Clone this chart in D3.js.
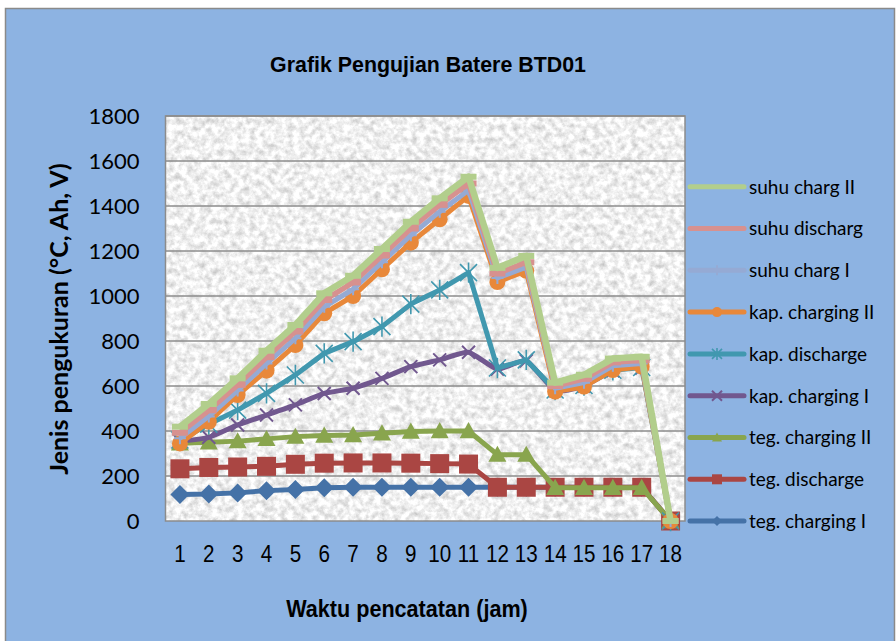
<!DOCTYPE html>
<html>
<head>
<meta charset="utf-8">
<script src="https://cdn.jsdelivr.net/npm/d3@7"></script>
<style>
  body { margin: 0; background: #fff; }
  svg { display: block; }
</style>
</head>
<body>
<svg id="chart" width="896" height="641"></svg>
<script>
// data (plotted values, 18 hourly readings)
var categories = ["1","2","3","4","5","6","7","8","9","10","11","12","13","14","15","16","17","18"];
var yTicks = [0,200,400,600,800,1000,1200,1400,1600,1800];

var tegChargingI   = [118,120,125,135,140,148,150,150,150,150,150,150,150,150,150,150,150,0];
var tegDischarge   = [232,238,240,243,252,257,258,258,257,255,253,150,150,150,150,150,150,0];
var tegChargingII  = [345,350,355,365,375,380,382,390,398,400,400,295,295,148,148,148,148,0];
var kapChargingI   = [355,372,427,471,516,567,590,634,686,716,750,675,712,580,600,668,680,0];
var kapDischarge   = [360,430,493,567,649,745,797,864,964,1027,1104,680,716,582,602,670,682,0];
var kapChargingII  = [345,441,560,668,782,923,1000,1119,1237,1341,1445,1062,1112,575,597,671,686,0];
var suhuChargI     = [368,465,580,700,812,952,1030,1150,1270,1375,1470,1080,1128,590,615,690,700,0];
var suhuDischarg   = [392,492,605,728,842,982,1060,1180,1300,1405,1500,1100,1150,600,632,705,714,0];
var suhuChargII    = [419,520,634,757,871,1012,1090,1209,1330,1434,1530,1125,1178,615,650,722,730,0];

// drawing order (first drawn at the bottom)
var series = [
  {name: "teg. charging I",   values: tegChargingI,  color: "#4572A7", marker: "diamond", width: 5},
  {name: "teg. discharge",    values: tegDischarge,  color: "#AA4643", marker: "square", width: 5},
  {name: "teg. charging II",  values: tegChargingII, color: "#89A54E", marker: "triangle", width: 5},
  {name: "kap. charging I",   values: kapChargingI,  color: "#71588F", marker: "x", width: 5, smooth: true},
  {name: "kap. discharge",    values: kapDischarge,  color: "#4198AF", marker: "asterisk", width: 5},
  {name: "kap. charging II",  values: kapChargingII, color: "#E8883A", marker: "circle", width: 5},
  {name: "suhu charg I",      values: suhuChargI,    color: "#95AAD4", marker: "plus", width: 5},
  {name: "suhu discharg",     values: suhuDischarg,  color: "#D7918F", marker: "dash", width: 5.5},
  {name: "suhu charg II",     values: suhuChargII,   color: "#B2CE8C", marker: "dash", width: 6.5}
];

var svg = d3.select("#chart");
var plotLeft = 165.5, plotRight = 685, plotTop = 116, plotBottom = 521;
var narrow = "'Liberation Sans', Arial, sans-serif";
var calibri = "Lato, 'Open Sans', sans-serif";

var defs = svg.append("defs");
var filt = defs.append("filter").attr("id", "granite")
  .attr("x", 0).attr("y", 0).attr("width", 1).attr("height", 1)
  .attr("color-interpolation-filters", "sRGB");
filt.append("feTurbulence").attr("type", "fractalNoise")
  .attr("baseFrequency", 0.16).attr("numOctaves", 4).attr("seed", 7);
filt.append("feColorMatrix").attr("type", "matrix")
  .attr("values", "0.4 0 0 0 0.74  0.4 0 0 0 0.74  0.4 0 0 0 0.74  0 0 0 0 1");

// chart area
svg.append("rect").attr("x", 5.5).attr("y", 8.5).attr("width", 889).attr("height", 640)
  .attr("fill", "#8DB3E2").attr("stroke", "#8a8a8a").attr("stroke-width", 1.5);

var x = d3.scalePoint().domain(categories).range([plotLeft, plotRight]).padding(0.5);
var y = d3.scaleLinear().domain([0, 1800]).range([plotBottom, plotTop]);

// plot area with granite texture
svg.append("rect").attr("x", plotLeft).attr("y", plotTop)
  .attr("width", plotRight - plotLeft).attr("height", plotBottom - plotTop)
  .attr("filter", "url(#granite)");

// gridlines
svg.append("g").selectAll("line").data(yTicks.slice(1)).enter().append("line")
  .attr("x1", plotLeft).attr("x2", plotRight)
  .attr("y1", function(d) { return y(d); }).attr("y2", function(d) { return y(d); })
  .attr("stroke", "#8c8c8c").attr("stroke-width", 1.5);

svg.append("rect").attr("x", plotLeft).attr("y", plotTop)
  .attr("width", plotRight - plotLeft).attr("height", plotBottom - plotTop)
  .attr("fill", "none").attr("stroke", "#8c8c8c").attr("stroke-width", 1.5);

// axes
var yAxis = svg.append("g").attr("transform", "translate(" + plotLeft + ",0)")
  .call(d3.axisLeft(y).tickValues(yTicks).tickSize(0).tickPadding(26).tickFormat(d3.format("d")));
yAxis.select(".domain").remove();
yAxis.selectAll("text").attr("font-family", calibri)
  .attr("font-size", 22).attr("fill", "#000").attr("dy", "0.35em");

// x tick labels, condensed like Arial Narrow
svg.append("g").selectAll("text").data(categories).enter().append("text")
  .attr("transform", function(d) { return "translate(" + x(d) + "," + 562 + ") scale(0.86,1)"; })
  .attr("text-anchor", "middle")
  .attr("font-family", narrow).attr("font-size", 24).attr("fill", "#000")
  .text(function(d) { return d; });

// marker shapes
function markerPath(type, s) {
  var h = s / 2;
  switch (type) {
    case "diamond": return "M0," + (-h) + "L" + h + ",0L0," + h + "L" + (-h) + ",0Z";
    case "square": return "M" + (-h) + "," + (-h) + "h" + s + "v" + s + "h" + (-s) + "Z";
    case "triangle": return "M0," + (-h) + "L" + h + "," + (h * 0.8) + "L" + (-h) + "," + (h * 0.8) + "Z";
    case "x": return "M" + (-h) + "," + (-h) + "L" + h + "," + h + "M" + h + "," + (-h) + "L" + (-h) + "," + h;
    case "asterisk": return "M" + (-h) + "," + (-h) + "L" + h + "," + h + "M" + h + "," + (-h) + "L" + (-h) + "," + h +
      "M0," + (-h * 1.2) + "L0," + (h * 1.2);
    case "plus": return "M0," + (-h) + "L0," + h + "M" + (-h) + ",0L" + h + ",0";
    case "dash": return "M" + (-h) + "," + (-3) + "h" + s + "v6h" + (-s) + "Z";
  }
  return "";
}
var markerSize = {diamond: 19, square: 19, triangle: 18, circle: 16, x: 13, asterisk: 17, plus: 12, dash: 16};
var stroked = {x: true, asterisk: true, plus: true};

function drawMarker(g, type, color, cx, cy, s) {
  if (type === "circle") {
    g.append("circle").attr("cx", cx).attr("cy", cy).attr("r", s / 2).attr("fill", color);
  } else if (stroked[type]) {
    g.append("path").attr("d", markerPath(type, s)).attr("transform", "translate(" + cx + "," + cy + ")")
      .attr("fill", "none").attr("stroke", color).attr("stroke-width", type === "asterisk" ? 1.6 : 2);
  } else {
    g.append("path").attr("d", markerPath(type, s)).attr("transform", "translate(" + cx + "," + cy + ")")
      .attr("fill", color);
  }
}

var plot = svg.append("g");
series.forEach(function(s) {
  var line = d3.line()
    .x(function(d, i) { return x(categories[i]); })
    .y(function(d) { return y(d); })
    .curve(s.smooth ? d3.curveCardinal.tension(0.45) : d3.curveLinear);
  var g = plot.append("g");
  g.append("path").attr("d", line(s.values))
    .attr("fill", "none").attr("stroke", s.color).attr("stroke-width", s.width)
    .attr("stroke-linejoin", "round");
  s.values.forEach(function(v, i) {
    drawMarker(g, s.marker, s.color, x(categories[i]), y(v), markerSize[s.marker]);
  });
});

// title
svg.append("text").attr("transform", "translate(428,72) scale(0.93,1)").attr("text-anchor", "middle")
  .attr("font-family", narrow)
  .attr("font-weight", "bold").attr("font-size", 23).text("Grafik Pengujian Batere BTD01");

// axis titles
svg.append("text").attr("transform", "translate(407,617) scale(0.9,1)").attr("text-anchor", "middle")
  .attr("font-family", narrow)
  .attr("font-weight", "bold").attr("font-size", 24).text("Waktu pencatatan (jam)");

svg.append("text").attr("transform", "translate(68,319) rotate(-90)").attr("text-anchor", "middle")
  .attr("font-family", calibri)
  .attr("font-weight", "bold").attr("font-size", 25).text("Jenis pengukuran (°C, Ah, V)");

// legend
var legendItems = series.slice().reverse();
var lg = svg.append("g");
legendItems.forEach(function(s, i) {
  var ly = 186.7 + i * 41.8;
  lg.append("line").attr("x1", 690).attr("x2", 744).attr("y1", ly).attr("y2", ly)
    .attr("stroke", s.color).attr("stroke-width", 5).attr("stroke-linecap", "round");
  if (s.marker !== "dash") {
    drawMarker(lg, s.marker, s.color, 717, ly, 10);
  }
  lg.append("text").attr("x", 749).attr("y", ly).attr("dy", "0.36em")
    .attr("font-family", calibri).attr("font-size", 19)
    .attr("fill", "#000").text(s.name);
});
</script>
</body>
</html>
